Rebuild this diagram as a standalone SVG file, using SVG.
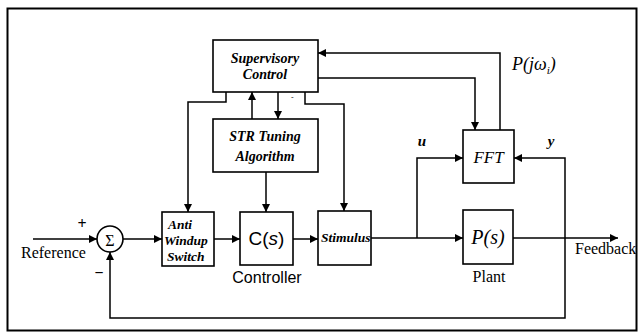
<svg xmlns="http://www.w3.org/2000/svg" width="642" height="335" viewBox="0 0 642 335">
<defs>
<marker id="ah" viewBox="0 0 10 10" refX="10" refY="5" markerWidth="8" markerHeight="8" markerUnits="userSpaceOnUse" orient="auto">
<path d="M0,0 L10,5 L0,10 z" fill="#000"/>
</marker>
<style>
.box{fill:#fff;stroke:#000;stroke-width:1.6}
.ln{fill:none;stroke:#000;stroke-width:1.5}
.ar{marker-end:url(#ah)}
.bi{font-family:"Liberation Serif","Times New Roman",serif;font-weight:bold;font-style:italic;font-size:14px}
.sbi{font-family:"Liberation Serif","Times New Roman",serif;font-weight:bold;font-style:italic;font-size:13.5px}
.tm{font-family:"Liberation Serif","Times New Roman",serif;font-size:16px}
.it{font-family:"Liberation Serif","Times New Roman",serif;font-style:italic}
.sn{font-family:"Liberation Sans",Arial,sans-serif}
</style>
</defs>
<rect x="7.5" y="8.5" width="629" height="322" fill="none" stroke="#000" stroke-width="2"/>

<g id="connectors">
<path class="ln ar" d="M33,239 H97"/>
<path class="ln ar" d="M123,239 H162"/>
<path class="ln ar" d="M214,239 H240"/>
<path class="ln ar" d="M293,239 H318"/>
<path class="ln ar" d="M371,238 H463"/>
<path class="ln ar" d="M417,238 V158 H463"/>
<path class="ln ar" d="M513,238 H618"/>
<path class="ln ar" d="M565,238 V158 H514"/>
<path class="ln ar" d="M565,238 V318 H110 V252"/>
<path class="ln ar" d="M318,78 H475 V130"/>
<path class="ln ar" d="M500,130 V53 H318"/>
<path class="ln ar" d="M226,92 V102 H188 V212"/>
<path class="ln ar" d="M252,119 V92"/>
<path class="ln ar" d="M278,92 V119"/>
<path class="ln ar" d="M305,92 V104 H344 V211"/>
<path class="ln ar" d="M266,172 V212"/>
</g>

<g id="supervisory">
<rect class="box" x="213" y="40" width="105" height="52"/>
<text class="bi" x="265" y="63" text-anchor="middle">Supervisory</text>
<text class="bi" x="265" y="79" text-anchor="middle">Control</text>
</g>
<text x="291" y="99" font-family="Liberation Sans, sans-serif" font-size="8">-</text>

<g id="str">
<rect class="box" x="213" y="119" width="105" height="53"/>
<text class="bi" x="265" y="141" text-anchor="middle">STR Tuning</text>
<text class="bi" x="265" y="161" text-anchor="middle">Algorithm</text>
</g>

<g id="sum">
<circle cx="110" cy="239" r="13" fill="#fff" stroke="#000" stroke-width="1.6"/>
<text x="110" y="246" text-anchor="middle" class="tm" font-size="20">Σ</text>
<text x="82" y="229" text-anchor="middle" class="tm" font-size="13" font-weight="bold">+</text>
<text x="99" y="278" text-anchor="middle" class="tm" font-size="16" font-weight="bold">−</text>
</g>
<text id="reference" class="tm" x="21" y="258">Reference</text>

<g id="antiwindup">
<rect class="box" x="162" y="212" width="52" height="54"/>
<text class="sbi" x="168" y="229">Anti</text>
<text class="sbi" x="164" y="245">Windup</text>
<text class="sbi" x="167" y="261">Switch</text>
</g>

<g id="controller">
<rect class="box" x="240" y="212" width="53" height="53"/>
<text class="sn" x="266.5" y="245" text-anchor="middle" font-size="19">C(<tspan font-style="italic">s</tspan>)</text>
<text class="sn" x="267" y="283" text-anchor="middle" font-size="16">Controller</text>
</g>

<g id="stimulus">
<rect class="box" x="318" y="211" width="53" height="54"/>
<text class="sbi" x="321" y="242" font-size="13.5">Stimulus</text>
</g>

<g id="fft">
<rect class="box" x="463" y="130" width="51" height="53"/>
<text class="it" x="488.5" y="163" text-anchor="middle" font-size="17">FFT</text>
</g>

<g id="plant">
<rect class="box" x="463" y="210" width="50" height="54"/>
<text class="it" x="488" y="244" text-anchor="middle" font-size="20">P(s)</text>
<text class="tm" x="489" y="282" text-anchor="middle">Plant</text>
</g>

<text class="tm" x="575" y="254" font-size="15.5">Feedback</text>
<text class="it" x="512" y="70" font-size="18">P(jω<tspan font-size="11" dy="4">i</tspan><tspan dy="-4">)</tspan></text>
<text class="it" x="422" y="146" text-anchor="middle" font-size="15" font-weight="bold">u</text>
<text class="it" x="551" y="146" text-anchor="middle" font-size="15" font-weight="bold">y</text>
</svg>
